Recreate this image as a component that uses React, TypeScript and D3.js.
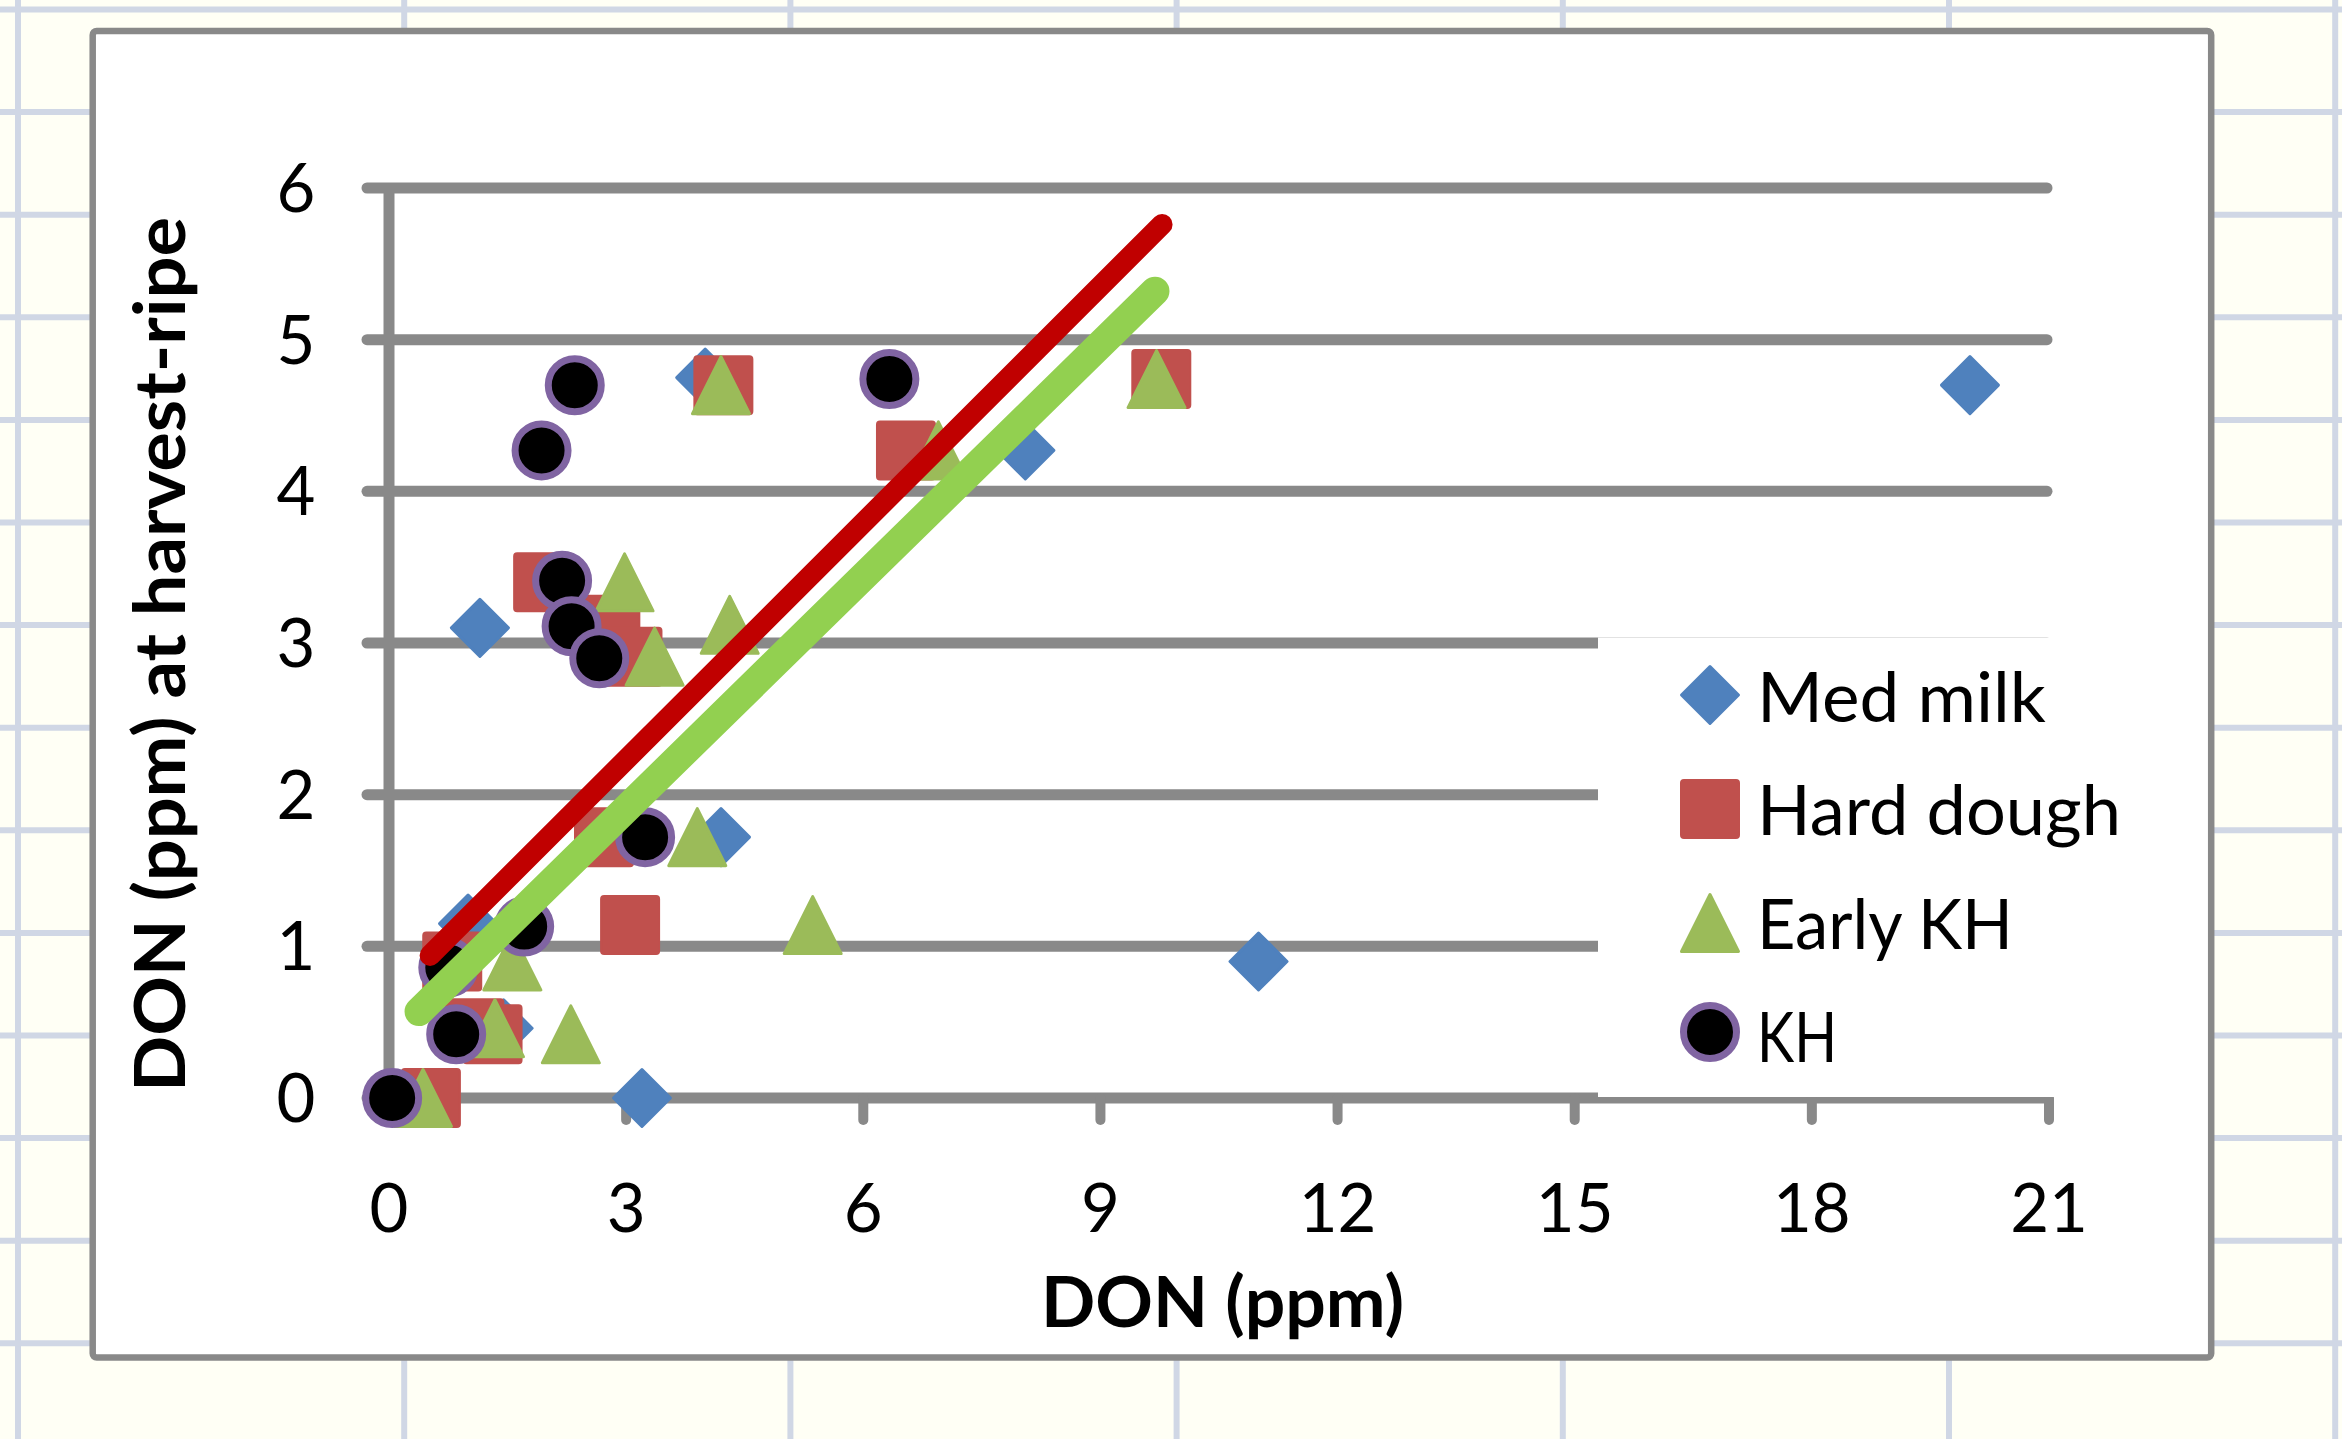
import React from 'react';
import * as d3 from 'd3';

const W = 2342;
const H = 1439;

// ---- Data ----
const seriesNames = ['Med milk', 'Hard dough', 'Early KH', 'KH'];

const medMilkX = [20.0, 11.0, 3.2, 8.05, 4.0, 1.15, 4.2, 1.0, 1.45];
const medMilkY = [4.7, 0.9, 0.0, 4.27, 4.75, 3.1, 1.72, 1.15, 0.46];

const hardDoughX = [4.23, 6.54, 9.77, 1.95, 2.8, 3.08, 2.72, 3.05, 0.8, 1.08, 1.31, 0.53];
const hardDoughY = [4.7, 4.27, 4.74, 3.4, 3.12, 2.91, 1.72, 1.14, 0.9, 0.46, 0.42, 0.0];

const earlyKhX = [4.2, 6.95, 9.71, 2.98, 4.31, 3.36, 3.9, 5.36, 1.56, 1.34, 2.3, 0.43];
const earlyKhY = [4.7, 4.27, 4.74, 3.4, 3.12, 2.91, 1.72, 1.14, 0.9, 0.46, 0.42, 0.0];

const khX = [2.35, 1.93, 6.33, 2.19, 2.31, 2.66, 3.24, 1.71, 0.75, 0.85, 0.04];
const khY = [4.7, 4.27, 4.74, 3.41, 3.11, 2.9, 1.72, 1.13, 0.86, 0.42, 0.0];

// trendlines (endpoints)
const hardDoughTrendX = [0.52, 9.78];
const hardDoughTrendY = [0.94, 5.76];
const earlyKhTrendX = [0.38, 9.69];
const earlyKhTrendY = [0.57, 5.32];

const xTicks = [0, 3, 6, 9, 12, 15, 18, 21];
const yTicks = [0, 1, 2, 3, 4, 5, 6];

const xTitle = 'DON (ppm)';
const yTitle = 'DON (ppm) at harvest-ripe';

// ---- Styles ----
const BLUE = '#4f81bd';
const RED = '#c0504d';
const GREEN = '#9bbb59';
const PURPLE = '#8064a2';
const GRID = '#898989';
const FONT = 'Lato, "Open Sans", sans-serif';

const x = d3.scaleLinear().domain([0, 21]).range([389, 2049]);
const y = d3.scaleLinear().domain([0, 6]).range([1098, 188]);

const zip = (xs: number[], ys: number[]) => xs.map((v, i) => [v, ys[i]] as [number, number]);

const Diamond = ({ cx, cy }: { cx: number; cy: number }) => {
  const p = d3.path();
  const r = 28.5;
  p.moveTo(cx, cy - r);
  p.lineTo(cx + r, cy);
  p.lineTo(cx, cy + r);
  p.lineTo(cx - r, cy);
  p.closePath();
  return <path d={p.toString()} fill={BLUE} stroke={BLUE} strokeWidth={3} strokeLinejoin="round" />;
};

const Square = ({ cx, cy }: { cx: number; cy: number }) => (
  <rect x={cx - 29} y={cy - 29} width={58} height={58} rx={3} fill={RED} stroke={RED} strokeWidth={2} />
);

const Triangle = ({ cx, cy }: { cx: number; cy: number }) => {
  const p = d3.path();
  const r = 28.5;
  p.moveTo(cx, cy - r);
  p.lineTo(cx + r, cy + r);
  p.lineTo(cx - r, cy + r);
  p.closePath();
  return <path d={p.toString()} fill={GREEN} stroke={GREEN} strokeWidth={3} strokeLinejoin="round" />;
};

const Circle = ({ cx, cy }: { cx: number; cy: number }) => (
  <circle cx={cx} cy={cy} r={26.5} fill="#000" stroke={PURPLE} strokeWidth={7} />
);

export default function App() {
  const cellXs = d3.range(7).map((i) => 18 + i * 386.2);
  const cellYs = d3.range(14).map((i) => 9.5 + i * 102.6);

  const line = d3
    .line<[number, number]>()
    .x((d) => x(d[0]))
    .y((d) => y(d[1]));

  const legendYs = [695, 809, 923, 1032];
  const legendTextBase = [722, 835, 949, 1062];
  const legendTextLen = [289, 364, 256, 80];
  const legendMarkers = [Diamond, Square, Triangle, Circle];

  return (
    <svg
      width={W}
      height={H}
      viewBox={`0 0 ${W} ${H}`}
      style={{ position: 'absolute', left: 0, top: 0, display: 'block' }}
    >
      {/* spreadsheet background */}
      <rect x={0} y={0} width={W} height={H} fill="#fffff5" />
      {cellYs.map((cy, i) => (
        <line key={'ch' + i} x1={0} x2={W} y1={cy} y2={cy} stroke="#d0d7e5" strokeWidth={6} />
      ))}
      {cellXs.map((cx, i) => (
        <line key={'cv' + i} x1={cx} x2={cx} y1={0} y2={H} stroke="#d0d7e5" strokeWidth={6} />
      ))}

      {/* chart area */}
      <rect x={92.7} y={31} width={2118.5} height={1326.5} rx={4} fill="#fff" stroke={GRID} strokeWidth={6.5} />

      {/* horizontal gridlines */}
      {yTicks.map((t) => (
        <line
          key={'g' + t}
          x1={367}
          x2={x(21) - 2}
          y1={y(t)}
          y2={y(t)}
          stroke={GRID}
          strokeWidth={11}
          strokeLinecap="round"
        />
      ))}
      {/* y axis line */}
      <line x1={x(0)} x2={x(0)} y1={y(6)} y2={y(0)} stroke={GRID} strokeWidth={11} />
      {/* x ticks */}
      {xTicks.map((t) => (
        <line
          key={'xt' + t}
          x1={x(t)}
          x2={x(t)}
          y1={y(0)}
          y2={y(0) + 22}
          stroke={GRID}
          strokeWidth={10}
          strokeLinecap="round"
        />
      ))}

      {/* legend box (covers gridlines) */}
      <rect x={1598} y={637.5} width={540} height={459.5} fill="#fff" />

      {/* markers */}
      {zip(medMilkX, medMilkY).map((d, i) => (
        <Diamond key={'m' + i} cx={x(d[0])} cy={y(d[1])} />
      ))}
      {zip(hardDoughX, hardDoughY).map((d, i) => (
        <Square key={'h' + i} cx={x(d[0])} cy={y(d[1])} />
      ))}
      {zip(earlyKhX, earlyKhY).map((d, i) => (
        <Triangle key={'e' + i} cx={x(d[0])} cy={y(d[1])} />
      ))}
      {zip(khX, khY).map((d, i) => (
        <Circle key={'k' + i} cx={x(d[0])} cy={y(d[1])} />
      ))}

      {/* trendlines */}
      <path
        d={line(zip(hardDoughTrendX, hardDoughTrendY)) || ''}
        stroke="#c00000"
        strokeWidth={21}
        strokeLinecap="round"
        fill="none"
      />
      <path
        d={line(zip(earlyKhTrendX, earlyKhTrendY)) || ''}
        stroke="#92d050"
        strokeWidth={29}
        strokeLinecap="round"
        fill="none"
      />

      {/* tick labels */}
      {yTicks.map((t) => (
        <text key={'yl' + t} x={296} y={y(t) + 24} textAnchor="middle" fontFamily={FONT} fontSize={67} fill="#000">
          {t}
        </text>
      ))}
      {xTicks.map((t) => (
        <text key={'xl' + t} x={x(t)} y={1232} textAnchor="middle" fontFamily={FONT} fontSize={67} fill="#000">
          {t}
        </text>
      ))}

      {/* axis titles */}
      <text
        x={1222.5}
        y={1327}
        textAnchor="middle"
        fontFamily={FONT}
        fontWeight="bold"
        fontSize={70}
        textLength={363}
        lengthAdjust="spacingAndGlyphs"
        fill="#000"
      >
        {xTitle}
      </text>
      <text
        transform={`translate(185, 654.5) rotate(-90)`}
        textAnchor="middle"
        fontFamily={FONT}
        fontWeight="bold"
        fontSize={70}
        textLength={875}
        lengthAdjust="spacingAndGlyphs"
        fill="#000"
      >
        {yTitle}
      </text>

      {/* legend */}
      {seriesNames.map((name, i) => {
        const M = legendMarkers[i];
        return (
          <g key={'lg' + i}>
            <M cx={1710} cy={legendYs[i]} />
            <text
              x={1757}
              y={legendTextBase[i]}
              fontFamily={FONT}
              fontSize={70}
              textLength={legendTextLen[i]}
              lengthAdjust="spacingAndGlyphs"
              fill="#000"
            >
              {name}
            </text>
          </g>
        );
      })}
    </svg>
  );
}
